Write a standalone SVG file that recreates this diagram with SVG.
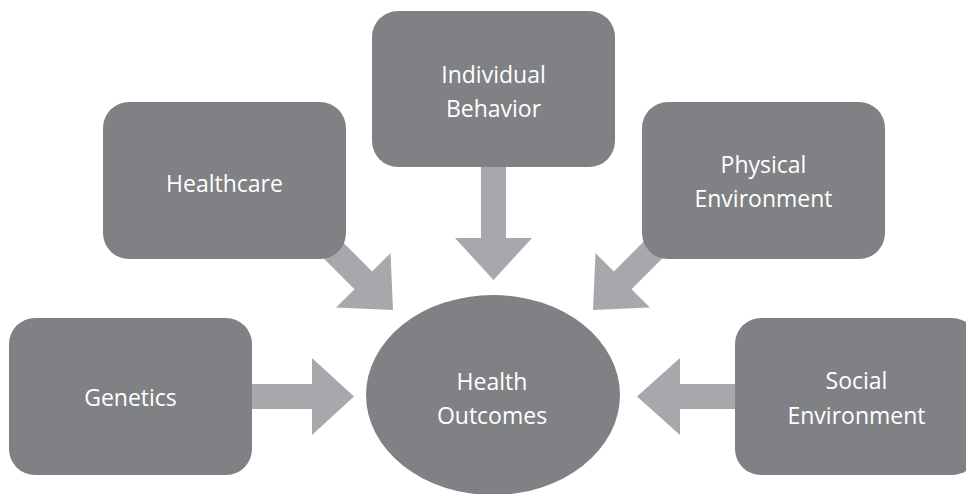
<svg xmlns="http://www.w3.org/2000/svg" width="966" height="494" viewBox="0 0 966 494">
  <style>
    .box { fill: #808184; }
    .arrow { fill: #a7a8ab; }
    .label { fill: #ffffff; font-family: "Open Sans", "Noto Sans", sans-serif; font-size: 23px; text-anchor: middle; }
  </style>
  <defs>
    <!-- arrow pointing right, tip at origin: shaft width 25, head width 77, head length 42 -->
    <path id="arrowShape" d="M -120 -12.5 L -42 -12.5 L -42 -38.5 L 0 0 L -42 38.5 L -42 12.5 L -120 12.5 Z"/>
  </defs>
  <rect width="966" height="494" fill="#ffffff"/>

  <g id="connectors">
    <!-- Genetics -> Health Outcomes -->
    <path class="arrow" d="M 240 384 L 312 384 L 312 358 L 354 396.5 L 312 435 L 312 409 L 240 409 Z"/>
    <!-- Social Environment -> Health Outcomes -->
    <path class="arrow" d="M 750 384 L 680 384 L 680 358 L 637 396.5 L 680 435 L 680 409 L 750 409 Z"/>
    <!-- Individual Behavior -> Health Outcomes -->
    <path class="arrow" d="M 481 150 L 481 238 L 455 238 L 493.5 280 L 532 238 L 506 238 L 506 150 Z"/>
    <!-- Healthcare -> Health Outcomes -->
    <use href="#arrowShape" class="arrow" transform="translate(393 310) rotate(45)"/>
    <!-- Physical Environment -> Health Outcomes -->
    <use href="#arrowShape" class="arrow" transform="translate(593 310) rotate(135)"/>
  </g>

  <g id="node-healthcare">
    <rect class="box" x="103" y="102" width="243" height="157" rx="26" ry="26"/>
    <text class="label" x="224.5" y="192">Healthcare</text>
  </g>

  <g id="node-individual-behavior">
    <rect class="box" x="372" y="11" width="243" height="156" rx="26" ry="26"/>
    <text class="label" x="493.5" y="83">Individual</text>
    <text class="label" x="493.5" y="117">Behavior</text>
  </g>

  <g id="node-physical-environment">
    <rect class="box" x="642" y="102" width="243" height="157" rx="26" ry="26"/>
    <text class="label" x="763.5" y="173">Physical</text>
    <text class="label" x="763.5" y="207">Environment</text>
  </g>

  <g id="node-genetics">
    <rect class="box" x="9" y="318" width="243" height="157" rx="26" ry="26"/>
    <text class="label" x="130.5" y="406">Genetics</text>
  </g>

  <g id="node-social-environment">
    <rect class="box" x="735" y="318" width="243" height="157" rx="26" ry="26"/>
    <text class="label" x="856.5" y="389">Social</text>
    <text class="label" x="856.5" y="424">Environment</text>
  </g>

  <g id="node-health-outcomes">
    <ellipse class="box" cx="493" cy="395" rx="127" ry="100"/>
    <text class="label" x="492" y="390">Health</text>
    <text class="label" x="492" y="424">Outcomes</text>
  </g>
</svg>
